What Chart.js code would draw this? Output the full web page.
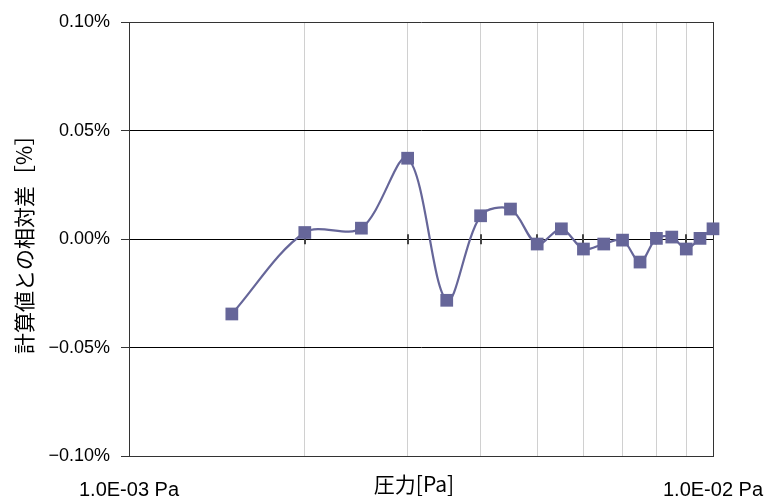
<!DOCTYPE html>
<html>
<head>
<meta charset="utf-8">
<script src="https://cdn.jsdelivr.net/npm/chart.js@4/dist/chart.umd.min.js"></script>
<style>
  html, body { margin: 0; padding: 0; background: #fff; }
  #wrap { width: 767px; height: 500px; }
</style>
</head>
<body>
<div id="wrap"><canvas id="myChart"></canvas></div>
<script>
// pressure [Pa] and relative difference from calculated value [%]
const pressures = [0.0015, 0.002, 0.0025, 0.003, 0.0035, 0.004, 0.0045, 0.005, 0.0055,
    0.006, 0.0065, 0.007, 0.0075, 0.008, 0.0085, 0.009, 0.0095, 0.01];
const relDiff = [-0.0344, 0.0031, 0.0051, 0.0373, -0.0281, 0.0108, 0.0139, -0.0022, 0.0048,
    -0.0045, -0.0022, -0.0004, -0.0105, 0.0004, 0.0010, -0.0045, 0.0004, 0.0048];

const xTickValues = [0.001, 0.002, 0.003, 0.004, 0.005, 0.006, 0.007, 0.008, 0.009, 0.01];
const xTickLabels = ['1.0E-03 Pa', '', '', '', '', '', '', '', '', '1.0E-02 Pa'];
const yTickValues = [-0.1, -0.05, 0, 0.05, 0.1];
const yTickLabels = ['\u22120.10%', '\u22120.05%', '0.00%', '0.05%', '0.10%'];

const xTitle = '圧力[Pa]';
const yTitle = '計算値との相対差［%］';

const markColor = '#666699';

// small tick marks crossing the zero line + x title on the tick row
const extras = {
    id: 'extras',
    beforeDatasetsDraw(chart) {
        const ctx = chart.ctx;
        const x = chart.scales.x;
        const y0 = chart.scales.y.getPixelForValue(0);
        ctx.save();
        ctx.strokeStyle = '#444';
        ctx.lineWidth = 2;
        xTickValues.slice(1, -1).forEach(v => {
            const px = Math.round(x.getPixelForValue(v));
            ctx.beginPath();
            ctx.moveTo(px, y0 - 5);
            ctx.lineTo(px, y0 + 5);
            ctx.stroke();
        });
        ctx.restore();
    },
    afterDraw(chart) {
        const ctx = chart.ctx;
        const area = chart.chartArea;
        ctx.save();
        ctx.font = '21px "Noto Sans CJK JP"';
        ctx.fillStyle = '#000';
        ctx.textAlign = 'center';
        ctx.textBaseline = 'middle';
        ctx.fillText(xTitle, (area.left + area.right) / 2 - 7, 484);
        ctx.restore();
    }
};

const ctx = document.getElementById('myChart').getContext('2d');

new Chart(ctx, {
    type: 'line',
    data: {
        datasets: [{
            data: pressures.map((p, i) => ({ x: p, y: relDiff[i] })),
            borderColor: markColor,
            backgroundColor: markColor,
            borderWidth: 2.2,
            tension: 0.33,
            clip: false,
            pointStyle: 'rect',
            pointRadius: 9,
            pointBorderWidth: 0,
            pointBackgroundColor: markColor,
            fill: false
        }]
    },
    options: {
        responsive: true,
        maintainAspectRatio: false,
        animation: false,
        events: [],
        layout: { padding: { left: 0, right: 54, top: 22, bottom: 0 } },
        plugins: {
            legend: { display: false },
            tooltip: { enabled: false }
        },
        scales: {
            x: {
                type: 'logarithmic',
                min: 0.001,
                max: 0.01,
                afterBuildTicks: scale => {
                    scale.ticks = xTickValues.map(v => ({ value: v }));
                },
                afterFit: scale => {
                    scale.height = 43.5;
                    scale.paddingLeft = 0;
                    scale.paddingRight = 0;
                },
                ticks: {
                    autoSkip: false,
                    maxRotation: 0,
                    padding: 22,
                    color: '#000',
                    font: { family: 'Liberation Sans', size: 20 },
                    callback: (value, index) => xTickLabels[index]
                },
                grid: {
                    drawTicks: false,
                    color: c => (c.index === 0 || c.index === xTickValues.length - 1) ? '#333' : '#d0d0d0',
                    lineWidth: 1
                },
                border: { color: '#333', width: 1 }
            },
            y: {
                min: -0.1,
                max: 0.1,
                afterBuildTicks: scale => {
                    scale.ticks = yTickValues.map(v => ({ value: v }));
                },
                afterFit: scale => {
                    scale.width = 129;
                    scale.paddingTop = 0;
                    scale.paddingBottom = 0;
                },
                ticks: {
                    padding: 11,
                    color: '#000',
                    font: { family: 'Liberation Sans', size: 18 },
                    callback: (value, index) => yTickLabels[index]
                },
                grid: {
                    tickLength: 8,
                    color: c => (c.tick && c.tick.value === 0.1) ? '#333' : '#000',
                    tickColor: '#333',
                    lineWidth: 1
                },
                border: { color: '#333', width: 1 },
                title: {
                    display: true,
                    text: yTitle,
                    color: '#000',
                    font: { family: 'Noto Sans CJK JP', size: 21 },
                    padding: { top: 11, bottom: 0 }
                }
            }
        }
    },
    plugins: [extras]
});
</script>
</body>
</html>
